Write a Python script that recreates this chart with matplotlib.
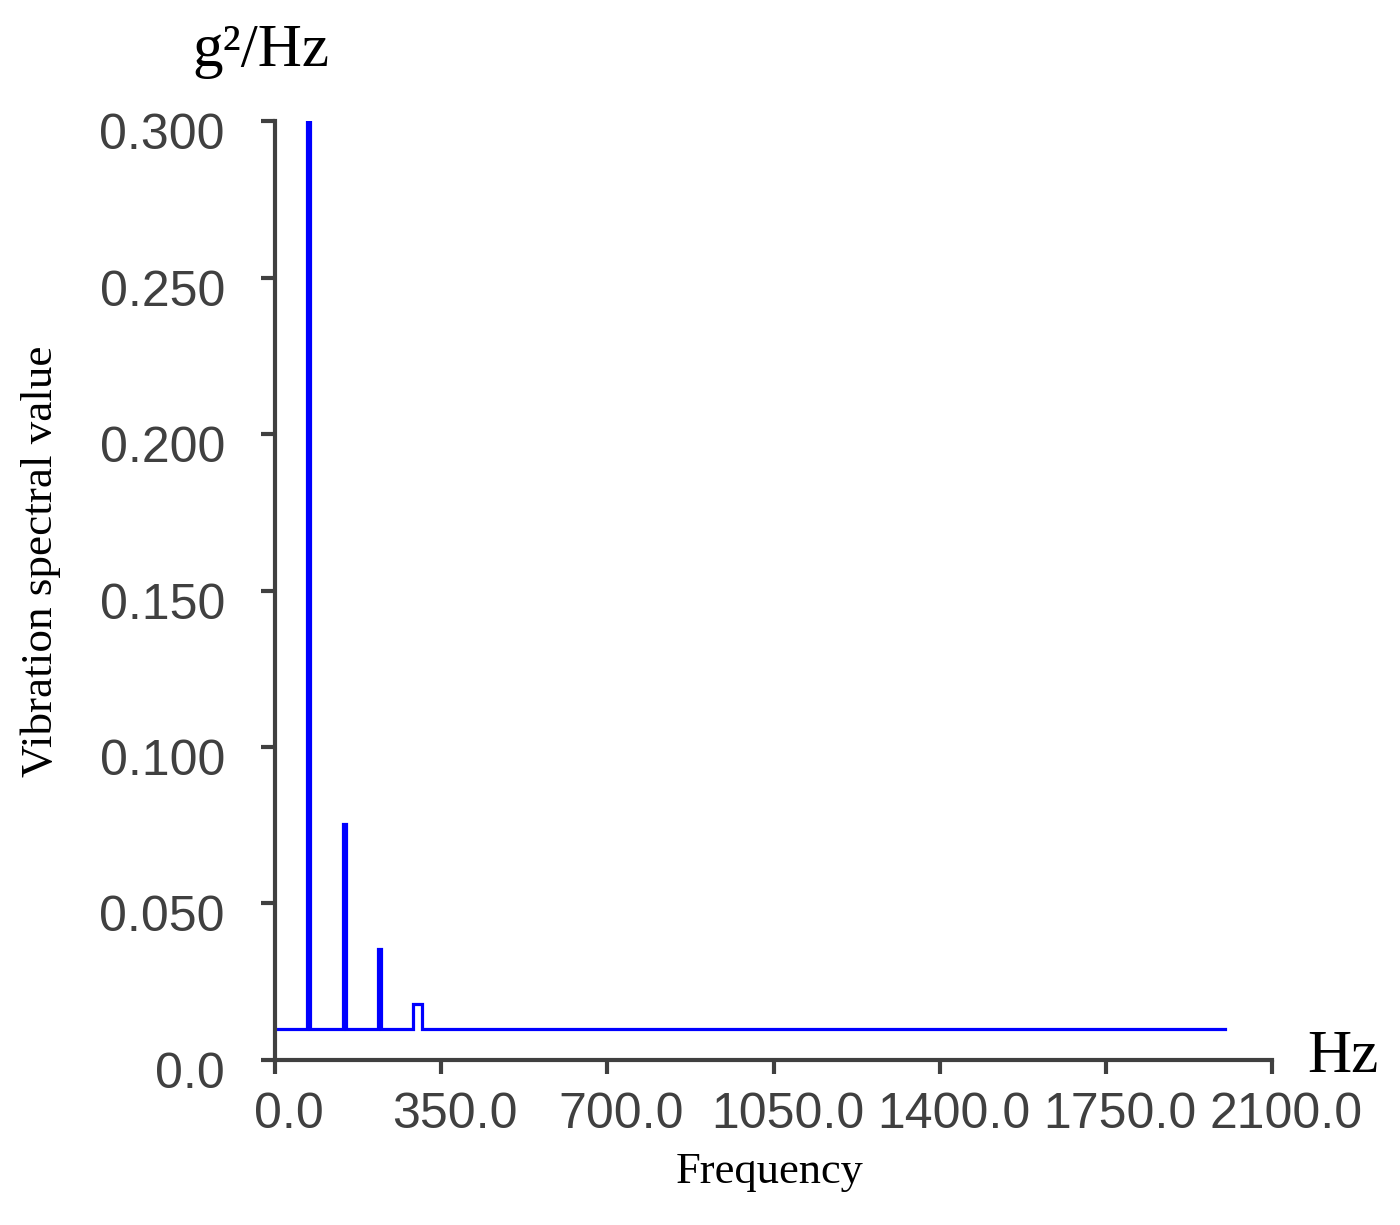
import numpy as np
import matplotlib
matplotlib.use('Agg')
import matplotlib.pyplot as plt
from matplotlib.transforms import ScaledTranslation

# spectrum
floor_val = 0.010
end_freq = 2000.0
peak_freq = [70.0, 146.0, 220.0]
peak_val = [0.300, 0.0755, 0.0356]
hump_freq = [290.0, 310.0]
hump_val = 0.018
x_ticks = [0.0, 350.0, 700.0, 1050.0, 1400.0, 1750.0, 2100.0]
y_ticks = [0.0, 0.05, 0.10, 0.15, 0.20, 0.25, 0.30]
y_tick_labels = ['0.0', '0.050', '0.100', '0.150', '0.200', '0.250', '0.300']

# build the polyline: floor with narrow spikes and one small hump
half = 3.5
xs, ys = [0.0], [floor_val]
for f, v in zip(peak_freq, peak_val):
    xs += [f - half, f - half, f + half, f + half]
    ys += [floor_val, v, v, floor_val]
xs += [hump_freq[0], hump_freq[0], hump_freq[1], hump_freq[1], end_freq]
ys += [floor_val, hump_val, hump_val, floor_val, floor_val]

grey = '#404040'
tick_font = ['Liberation Sans', 'DejaVu Sans']
serif = ['Liberation Serif', 'DejaVu Serif']

fig = plt.figure(figsize=(14, 12.25), dpi=100)
ax = fig.add_axes([0.1964, 0.1347, 0.7122, 0.7665])

ax.plot(xs, ys, color='#0000ff', lw=2.3, solid_joinstyle='miter')

ax.set_xlim(0, 2100)
ax.set_ylim(0, 0.3)
ax.set_xticks(x_ticks)
ax.set_xticklabels([f'{t:.1f}' for t in x_ticks])
ax.set_yticks(y_ticks)
ax.set_yticklabels(y_tick_labels)

for s in ['top', 'right']:
    ax.spines[s].set_visible(False)
for s in ['left', 'bottom']:
    ax.spines[s].set_linewidth(3)
    ax.spines[s].set_color(grey)

ax.tick_params(direction='out', length=10, width=3, color=grey,
               labelcolor=grey, labelsize=36)
ax.tick_params(axis='x', pad=13)
ax.tick_params(axis='y', pad=26)
for lab in ax.get_xticklabels() + ax.get_yticklabels():
    lab.set_family(tick_font)

# labels in the source sit a little right / below their ticks
dx = ScaledTranslation(14 / 100, 0, fig.dpi_scale_trans)
dy = ScaledTranslation(0, -10 / 100, fig.dpi_scale_trans)
for lab in ax.get_xticklabels():
    lab.set_transform(lab.get_transform() + dx)
for lab in ax.get_yticklabels():
    lab.set_transform(lab.get_transform() + dy)

fig.text(0.029, 0.542, 'Vibration spectral value', rotation=90, ha='center',
         va='center', family=serif, fontsize=32.5, color='black')
fig.text(0.55, 0.043, 'Frequency', ha='center', va='center',
         family=serif, fontsize=32, color='black')
fig.text(0.186, 0.958, 'g²/Hz', ha='center', va='center',
         family=serif, fontsize=44, color='black')
fig.text(0.959, 0.137, 'Hz', ha='center', va='center',
         family=serif, fontsize=44, color='black')

fig.savefig('out.png', dpi=100, facecolor='white')
